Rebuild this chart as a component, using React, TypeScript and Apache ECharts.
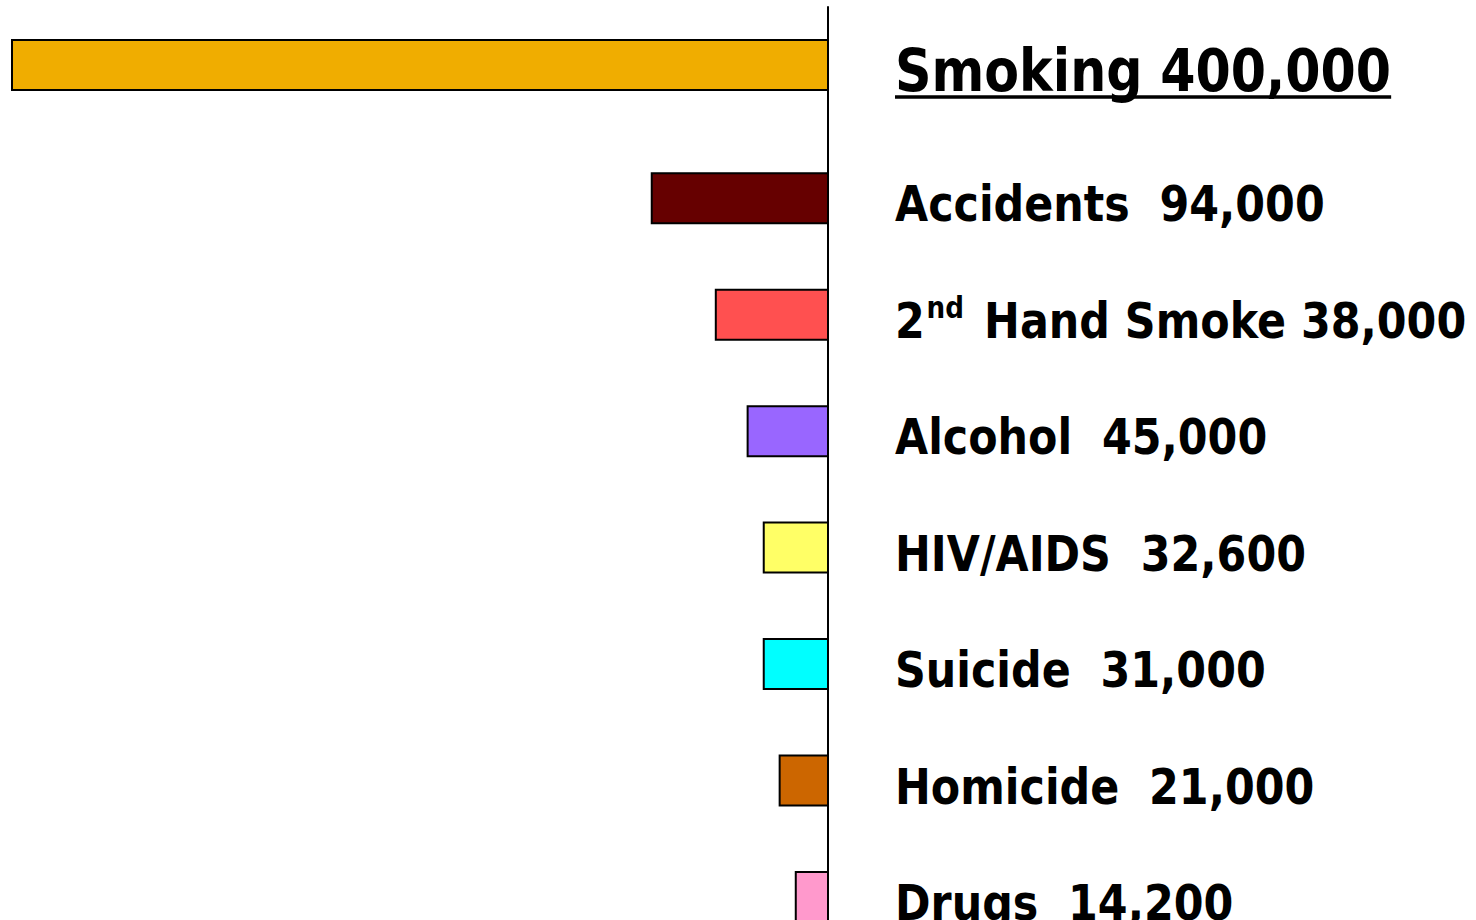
import React, { useEffect, useRef } from 'react';
import * as echarts from 'echarts';

// ---- data ----
const causes = ['Smoking', 'Accidents', '2nd Hand Smoke', 'Alcohol', 'HIV/AIDS', 'Suicide', 'Homicide', 'Drugs'];
const labelFigures = ['400,000', '94,000', '38,000', '45,000', '32,600', '31,000', '21,000', '14,200'];
// bar lengths as drawn in the picture
const barValues = [400000, 86400, 55000, 39400, 31500, 31500, 23700, 15800];
const barColors = ['#F0AD00', '#660000', '#FF5050', '#9966FF', '#FFFF66', '#00FFFF', '#CC6600', '#FF99CC'];
const labelGaps = [' ', '  ', ' ', '  ', '  ', '  ', '  ', '  '];

// ---- layout / style ----
const FONT = '"DejaVu Sans", Verdana, sans-serif';
const TEXT_SCALE_X = 0.874;
const FEATURED = 0; // underlined, larger label
const rowSlot = (i: number) => (i === 0 ? 0 : 7 * i + 1);

const richName = (name: string) => name.replace(/^(\d)(st|nd|rd|th)\b/, '$1{sup|$2}');

function measure(text: string, size: number) {
  const c = document.createElement('canvas');
  const ctx = c.getContext('2d');
  if (!ctx) return text.length * size * 0.6;
  ctx.font = `bold ${size}px ${FONT}`;
  return ctx.measureText(text).width;
}

export default function App() {
  const ref = useRef<HTMLDivElement>(null);

  useEffect(() => {
    document.body.style.margin = '0';
    if (!ref.current) return;
    const chart = echarts.init(ref.current, undefined, { renderer: 'svg' });

    const option: any = {
      animation: false,
      backgroundColor: '#ffffff',
      grid: { left: 12, right: 648, top: 7, bottom: 0, containLabel: false },
      xAxis: {
        type: 'value',
        inverse: true,
        min: 0,
        max: 400000,
        show: false,
      },
      yAxis: {
        type: 'value',
        inverse: true,
        min: -3.49,
        max: 51.38,
        position: 'right',
        axisLine: { show: true, onZero: false, lineStyle: { color: '#000000', width: 2 } },
        axisTick: { show: false },
        axisLabel: { show: false },
        splitLine: { show: false },
      },
      series: [
        {
          type: 'custom',
          clip: false,
          encode: { x: 0, y: 1 },
          data: barValues.map((v, i) => [v, rowSlot(i)]),
          renderItem: (params: any, api: any) => {
            const i = params.dataIndex;
            const v = api.value(0);
            const pos = api.value(1);
            const base = api.coord([0, pos]);
            const end = api.coord([v, pos]);
            const h = 50;
            const featured = i === FEATURED;
            const fontSize = featured ? 58 : 49;
            const plain = causes[i] + labelGaps[i] + labelFigures[i];
            const text = richName(causes[i]) + labelGaps[i] + labelFigures[i];
            const tx = base[0] + 67;
            const ty = base[1] + 6;
            const children: any[] = [
              {
                type: 'rect',
                shape: { x: end[0], y: base[1] - h / 2, width: base[0] - end[0], height: h },
                style: { fill: barColors[i], stroke: '#000000', lineWidth: 2 },
              },
              {
                type: 'text',
                x: tx,
                y: ty,
                scaleX: TEXT_SCALE_X,
                style: {
                  text,
                  fill: '#000000',
                  fontFamily: FONT,
                  fontWeight: 'bold',
                  fontSize,
                  lineHeight: 56,
                  align: 'left',
                  verticalAlign: 'middle',
                  rich: {
                    sup: {
                      fontFamily: FONT,
                      fontWeight: 'bold',
                      fontSize: 30,
                      lineHeight: 52,
                      verticalAlign: 'top',
                      padding: [0, 6, 0, 2],
                      fill: '#000000',
                    },
                  },
                },
              },
            ];
            if (featured) {
              const w = measure(plain, fontSize) * TEXT_SCALE_X;
              children.push({
                type: 'line',
                shape: { x1: tx, y1: ty + 26, x2: tx + w, y2: ty + 26 },
                style: { stroke: '#000000', lineWidth: 3.5 },
              });
            }
            return { type: 'group', children };
          },
        },
      ],
    };

    chart.setOption(option);
    return () => chart.dispose();
  }, []);

  return (
    <div
      ref={ref}
      style={{ position: 'fixed', left: 0, top: 0, width: 1476, height: 920, background: '#ffffff' }}
    />
  );
}
